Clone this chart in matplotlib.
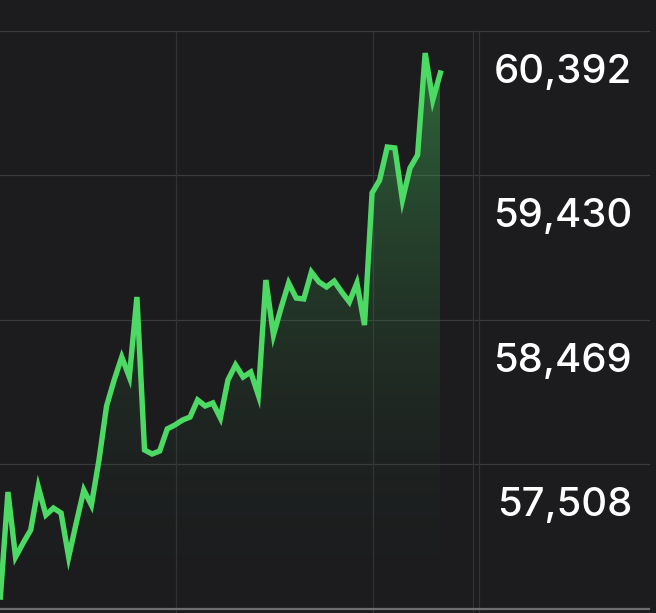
import numpy as np
import matplotlib
matplotlib.use('Agg')
import matplotlib.pyplot as plt
from matplotlib.colors import LinearSegmentedColormap
from matplotlib.patches import Polygon

# price per step
steps = list(range(59))
price = [56621, 57321, 56888, 56981, 57068, 57354, 57168, 57214, 57181, 56888,
         57114, 57334, 57234, 57534, 57894, 58067, 58220, 58087, 58620, 57601,
         57574, 57594, 57741, 57767, 57800, 57820, 57934, 57894, 57914, 57814,
         58067, 58167, 58087, 58120, 57967, 58733, 58367, 58547, 58713, 58613,
         58607, 58786, 58720, 58687, 58726, 58653, 58587, 58713, 58433, 59313,
         59399, 59619, 59613, 59266, 59479, 59566, 60245, 59932, 60112]
ticks = [60392, 59430, 58469, 57508]
labels = ['60,392', '59,430', '58,469', '57,508']

bg = '#1c1c1e'
green = '#4cd964'
W, H = 656, 613
px_per_step = 7.59
val_per_px = 961.3 / 144.3
top_val = ticks[0] + 31 * val_per_px
bottom_val = top_val - H * val_per_px
axis_val = top_val - 609 * val_per_px

fig = plt.figure(figsize=(W / 100, H / 100), dpi=100, facecolor=bg)
ax = fig.add_axes([0, 0, 1, 1])
ax.set_facecolor(bg)
ax.set_xlim(-0.05, W / px_per_step)
ax.set_ylim(bottom_val, top_val)
ax.axis('off')

# grid
for t in ticks:
    ax.axhline(t, xmin=0, xmax=649 / W, color='#3a3a3c', lw=0.9, zorder=1)
ymax_v = (top_val - ticks[0]) / (top_val - bottom_val)
for xp in [176, 373, 473, 479]:
    ax.axvline(xp / px_per_step, ymin=0, ymax=1 - ymax_v, color='#333336', lw=0.9, zorder=1)
ax.axhline(axis_val, xmin=0, xmax=649 / W, color='#6e6e72', lw=1.6, zorder=1)

# gradient fill under the line
cmap = LinearSegmentedColormap.from_list('g', [(0.12, 0.14, 0.13, 0.0), (0.30, 0.85, 0.40, 0.42)])
grad = np.linspace(0, 1, 256).reshape(-1, 1)
img = ax.imshow(grad, cmap=cmap, aspect='auto', origin='lower',
                extent=[steps[0], steps[-1], bottom_val, max(price)], zorder=2)
poly = Polygon(list(zip(steps, price)) + [(steps[-1], bottom_val), (steps[0], bottom_val)],
               closed=True, facecolor='none', edgecolor='none')
ax.add_patch(poly)
img.set_clip_path(poly)

ax.plot(steps, price, color=green, lw=3.9, solid_joinstyle='miter', zorder=3)

for t, lab in zip(ticks, labels):
    ax.annotate(lab, xy=(632 / W, t), xycoords=('axes fraction', 'data'),
                xytext=(0, -52), textcoords='offset pixels', ha='right', va='baseline',
                color='white', fontsize=28.8, family='Inter', fontweight='medium')

fig.savefig('out.png', dpi=100, facecolor=bg)
